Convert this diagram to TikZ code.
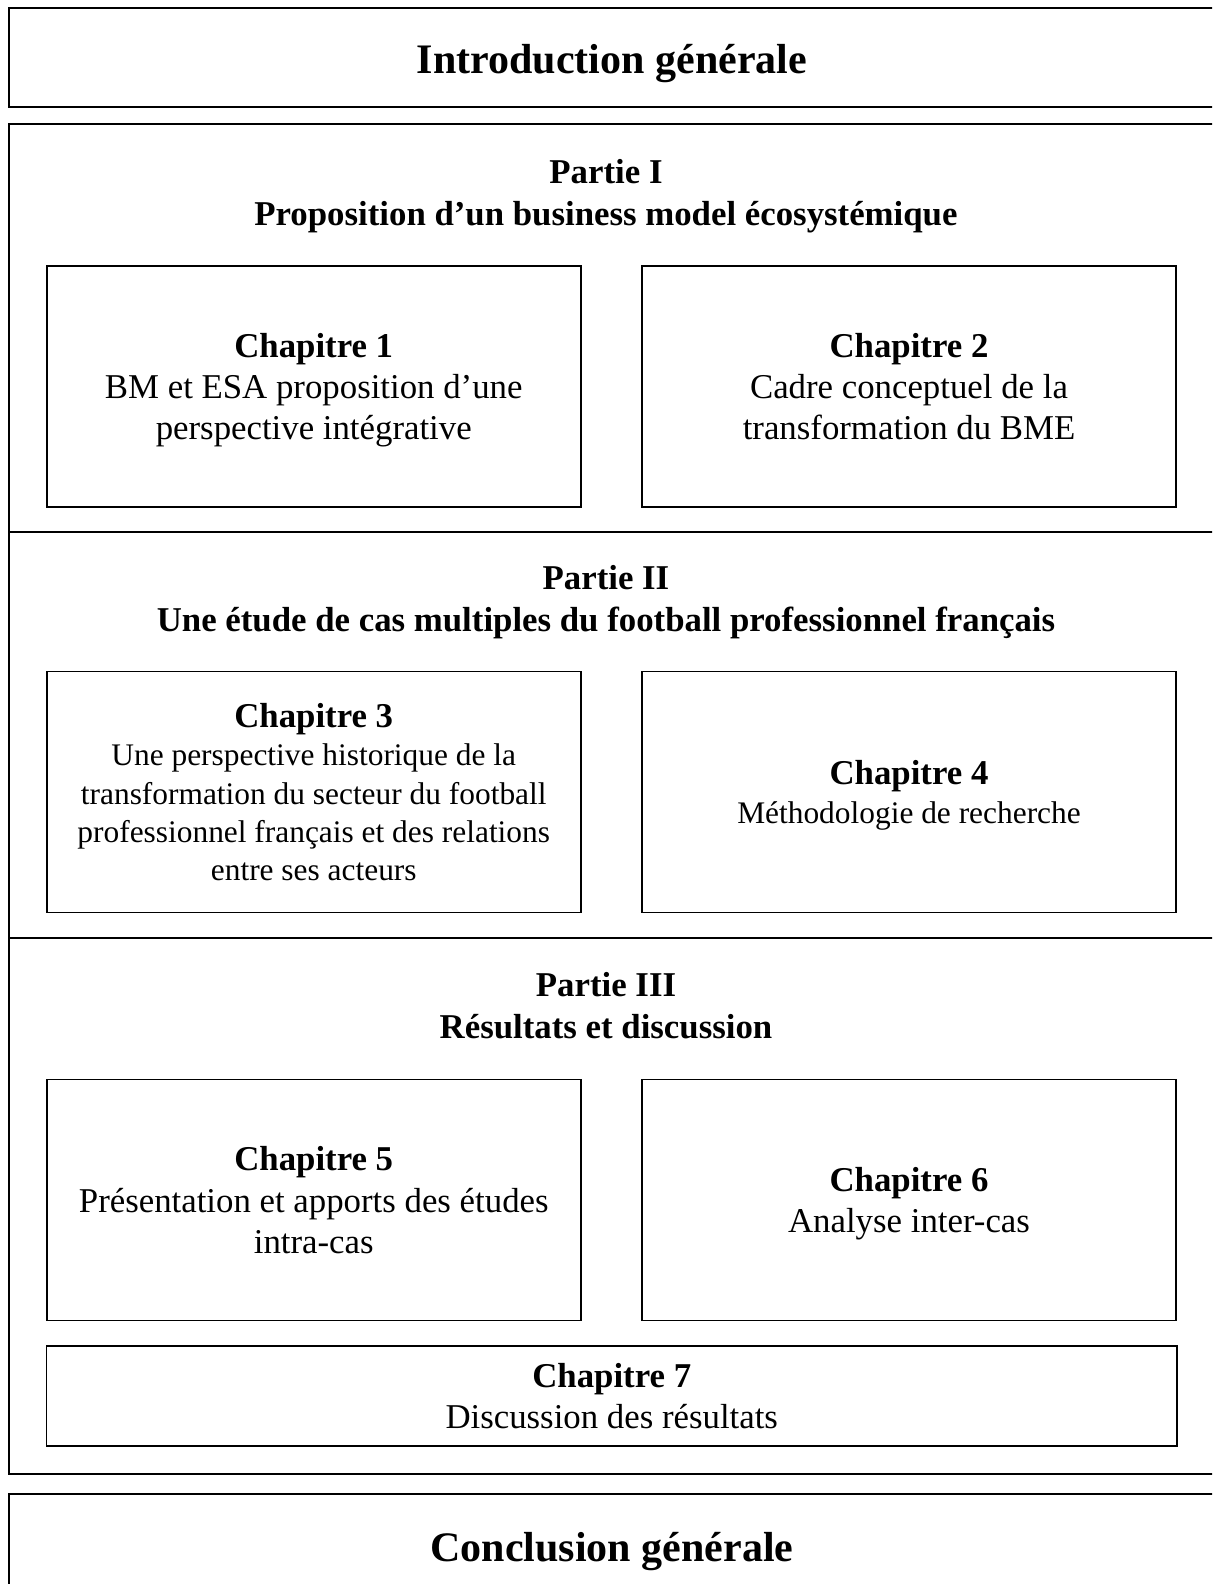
\documentclass[tikz,border=0pt]{standalone}
\usepackage{fontspec}
\setmainfont{Liberation Serif}
\usetikzlibrary{positioning}

\begin{document}
\begin{tikzpicture}[x=0.5pt,y=-0.5pt,line width=0.8pt,
  chap/.style={draw,align=center,minimum width=267pt,minimum height=120.5pt,inner sep=2pt,text depth=0pt,font=\fontsize{17.4}{20.7}\selectfont},
  part/.style={align=center,text depth=0pt,font=\bfseries\fontsize{17.4}{21}\selectfont},
  title/.style={text depth=0pt,font=\bfseries\fontsize{21}{25}\selectfont}]
\useasboundingbox (0,0) rectangle (1212,1584);
\clip (0,0) rectangle (1212,1584);
% Introduction
\draw (9,8) rectangle (1240,107);
\node[title] (intro) at (612,59) {Introduction générale};
% the three parts
\draw (9,124) rectangle (1240,1474);
\draw (9,532) -- (1240,532);
\draw (9,938) -- (1240,938);
%     Partie I
\node[part] (p1) at (606,192) {Partie I\\Proposition d’un business model écosystémique};
\node[chap] (ch1) at (313.75,386.5) {\textbf{Chapitre 1}\\BM et ESA proposition d’une\\perspective intégrative};
\node[chap] (ch2) at (909,386.5) {\textbf{Chapitre 2}\\Cadre conceptuel de la\\transformation du BME};
%     Partie II
\node[part] (p2) at (606,598.5) {Partie II\\Une étude de cas multiples du football professionnel français};
\node[chap,font=\fontsize{15.7}{19.2}\selectfont] (ch3) at (313.75,792) {{\bfseries\fontsize{17.4}{20.7}\selectfont Chapitre 3}\\Une perspective historique de la\\transformation du secteur du football\\professionnel français et des relations\\entre ses acteurs};
\node[chap,font=\fontsize{15.7}{19.2}\selectfont] (ch4) at (909,792) {{\bfseries\fontsize{17.4}{20.7}\selectfont Chapitre 4}\\Méthodologie de recherche};
%     Partie III
\node[part] (p3) at (606,1005) {Partie III\\Résultats et discussion};
\node[chap] (ch5) at (313.75,1200) {\textbf{Chapitre 5}\\Présentation et apports des études\\intra-cas};
\node[chap] (ch6) at (909,1200) {\textbf{Chapitre 6}\\Analyse inter-cas};
\node[chap,minimum width=565.25pt,minimum height=50pt] (ch7) at (611.75,1396) {\textbf{Chapitre 7}\\Discussion des résultats};
% Conclusion
\draw (9,1494) rectangle (1240,1640);
\node[title] (concl) at (612,1547) {Conclusion générale};
\end{tikzpicture}
\end{document}
